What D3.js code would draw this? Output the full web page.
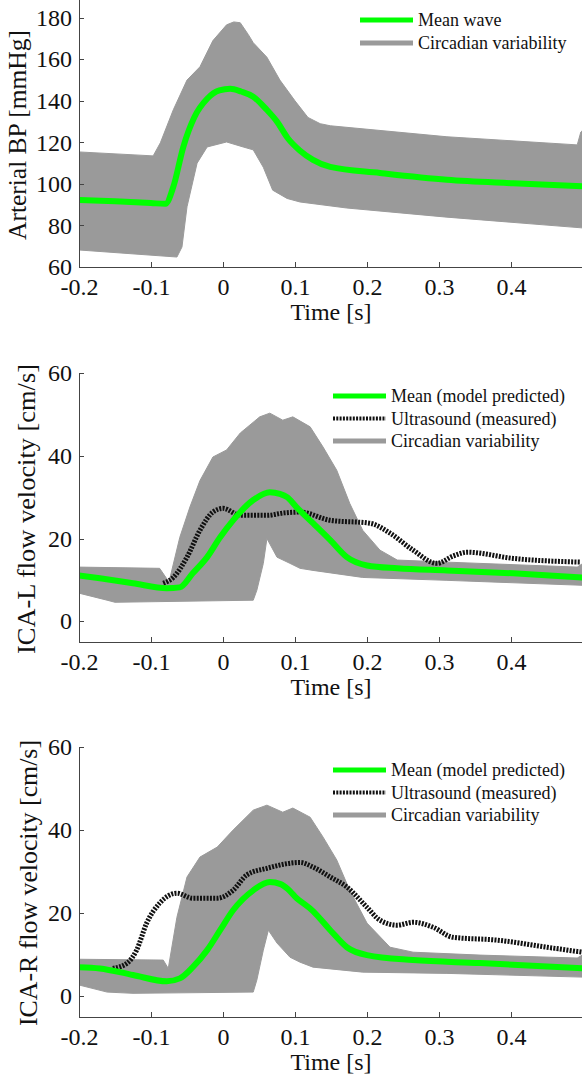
<!DOCTYPE html>
<html>
<head>
  <meta charset="utf-8">
  <title>Arterial BP and ICA flow velocity</title>
  <script src="https://d3js.org/d3.v7.min.js"></script>
  <style>
    body {
      margin: 0;
      background: #fff;
    }
    svg text {
      font-family: "Liberation Serif", "Times New Roman", serif;
      fill: #111;
    }
    .axis path,
    .axis line {
      fill: none;
      stroke: #444;
      stroke-width: 1;
      shape-rendering: crispEdges;
    }
  </style>
</head>
<body>
<svg id="chart" width="582" height="1077"></svg>

<script>
  // ---- data: [time s, value] ----
  const xTicks = [-0.2, -0.1, 0, 0.1, 0.2, 0.3, 0.4];
  const xTickLabels = ["-0.2", "-0.1", "0", "0.1", "0.2", "0.3", "0.4"];
  const bpTicks = [60, 80, 100, 120, 140, 160, 180];
  const flowTicks = [0, 20, 40, 60];

  // Arterial BP
  const bpMean = [[-0.2,92.3],[-0.15,91.6],[-0.1,90.8],[-0.08,90.4],[-0.069,98.6],[-0.055,118],[-0.04,132],
    [-0.022,141],[-0.005,145],[0.01,145.8],[0.025,144.5],[0.042,142],[0.06,136],[0.075,130],[0.09,122],
    [0.107,116],[0.125,111.6],[0.149,108.2],[0.218,105.3],[0.311,102],[0.403,100.3],[0.5,98.8]];
  const bpUpper = [[-0.2,115.4],[-0.097,113.5],[-0.087,119.8],[-0.069,135.7],[-0.05,150],[-0.032,156.4],
    [-0.014,169],[0.005,176.6],[0.015,178],[0.024,177.6],[0.035,172],[0.042,168],[0.061,161],[0.079,150],
    [0.1,140],[0.118,132],[0.135,129],[0.149,128],[0.311,122.7],[0.492,118.8],[0.497,125],[0.5,126]];
  const bpLower = [[-0.2,68.2],[-0.064,64.8],[-0.057,69.6],[-0.05,89],[-0.036,110],[-0.022,117.8],[0.005,120.2],
    [0.028,117.8],[0.042,116.4],[0.056,108],[0.069,97],[0.089,93],[0.107,91.3],[0.172,88.4],[0.311,84],[0.5,78.8]];

  // ICA-L
  const icaLMean = [[-0.2,11.1],[-0.171,10.4],[-0.125,9.2],[-0.078,8.0],[-0.06,8.2],[-0.042,11.6],[-0.022,15.5],
    [-0.004,20.3],[0.014,24.4],[0.042,29.3],[0.065,31.2],[0.079,30.8],[0.089,30],[0.102,27.6],[0.125,23.7],
    [0.149,19.6],[0.172,15.5],[0.2,13.5],[0.242,12.8],[0.311,12.3],[0.403,11.6],[0.5,10.6]];
  const icaLUltra = [[-0.083,9.2],[-0.069,10.6],[-0.05,15.5],[-0.032,22],[-0.014,26.4],[0,27.3],[0.024,25.6],
    [0.061,25.6],[0.085,26.2],[0.107,26.4],[0.149,24.4],[0.204,23.7],[0.232,21.3],[0.264,17.2],[0.297,14.0],
    [0.32,15.8],[0.339,16.7],[0.403,15.2],[0.496,14.3]];
  const icaLUpper = [[-0.2,13.1],[-0.088,12.8],[-0.075,9.5],[-0.06,20.3],[-0.046,27.6],[-0.032,34],[-0.014,39.7],
    [0.005,41.4],[0.024,45.5],[0.051,49.4],[0.065,50.3],[0.083,48.6],[0.097,49.4],[0.121,47],[0.139,42.1],
    [0.158,36.5],[0.176,28.5],[0.194,22],[0.218,17.2],[0.242,14.8],[0.311,14.3],[0.492,13.1],[0.5,14]];
  const icaLLower = [[-0.2,6.8],[-0.161,5.1],[-0.15,4.6],[0.042,5.1],[0.047,7.5],[0.056,14],[0.061,20],[0.075,15.5],
    [0.093,14],[0.107,12.8],[0.125,12.3],[0.194,10.6],[0.311,9.9],[0.5,8.7]];

  // ICA-R
  const icaRMean = [[-0.2,7.0],[-0.171,6.7],[-0.125,5.1],[-0.078,3.6],[-0.06,4.3],[-0.042,7.0],[-0.022,11.1],
    [-0.004,15.9],[0.014,20.7],[0.042,25.5],[0.065,27.5],[0.08,27],[0.09,25.8],[0.1,24],[0.125,20.5],
    [0.149,15.9],[0.172,11.8],[0.2,9.9],[0.264,8.7],[0.357,8.0],[0.5,6.7]];
  const icaRUltra = [[-0.153,6.7],[-0.133,8.0],[-0.12,11.1],[-0.106,17.6],[-0.088,22.4],[-0.064,24.8],[-0.042,23.6],
    [-0.008,23.6],[0.014,25.5],[0.033,29.2],[0.061,30.8],[0.107,32.2],[0.125,31.1],[0.149,28.7],[0.172,26.3],
    [0.2,21.4],[0.218,18.3],[0.242,17.1],[0.264,17.8],[0.292,16.6],[0.319,14.2],[0.381,13.5],[0.45,11.8],[0.499,10.6]];
  const icaRUpper = [[-0.2,8.9],[-0.083,8.7],[-0.076,6.7],[-0.064,19],[-0.05,28.7],[-0.032,33.5],[-0.008,35.9],
    [0.014,40],[0.042,44.8],[0.061,46],[0.083,44.3],[0.097,45.3],[0.121,43.1],[0.139,38.3],[0.158,32.8],
    [0.176,25.5],[0.2,17.6],[0.232,11.8],[0.264,10.6],[0.357,9.9],[0.492,9.2],[0.5,10]];
  const icaRLower = [[-0.2,2.7],[-0.161,1.0],[-0.125,0.7],[0.042,1.0],[0.047,3.9],[0.056,11.1],[0.063,15.9],
    [0.075,12.8],[0.093,9.4],[0.107,8.2],[0.125,7.0],[0.194,5.8],[0.311,5.5],[0.5,4.6]];

  const bpLegend = ["Mean wave", "Circadian variability"];
  const flowLegend = ["Mean (model predicted)", "Ultrasound (measured)", "Circadian variability"];

  // ---- styles ----
  const GREEN = "#00ff00", GREY = "#9a9a9a", BLACK = "#111";

  const svg = d3.select("#chart");
  svg.append("rect").attr("width", 582).attr("height", 1077).attr("fill", "#fff");

  // x scale shared by all three panels
  const x = d3.scaleLinear().domain([-0.2, 0.5]).range([79, 583]);

  // one entry per panel: geometry lives here, not in the data arrays
  const panels = [
    { label: "Arterial BP [mmHg]", yDomain: [60, 190], yRange: [267, -3], yTicks: bpTicks,
      labelX: 26, labelY: 135, labelLen: 210,
      mean: bpMean, ultra: null, upper: bpUpper, lower: bpLower,
      legend: bpLegend, legendX: 360, legendY: 20 },
    { label: "ICA-L flow velocity [cm/s]", yDomain: [-5, 60], yRange: [642, 373], yTicks: flowTicks,
      labelX: 35, labelY: 509, labelLen: 290,
      mean: icaLMean, ultra: icaLUltra, upper: icaLUpper, lower: icaLLower,
      legend: flowLegend, legendX: 333, legendY: 396 },
    { label: "ICA-R flow velocity [cm/s]", yDomain: [-5, 60], yRange: [1017, 747], yTicks: flowTicks,
      labelX: 37, labelY: 883, labelLen: 286,
      mean: icaRMean, ultra: icaRUltra, upper: icaRUpper, lower: icaRLower,
      legend: flowLegend, legendX: 333, legendY: 770 }
  ];

  panels.forEach(p => {
    const y = d3.scaleLinear().domain(p.yDomain).range(p.yRange);
    const g = svg.append("g");
    const clipId = "clip" + p.yRange[0];

    g.append("clipPath").attr("id", clipId)
      .append("rect")
      .attr("x", 79).attr("y", p.yRange[1])
      .attr("width", 504).attr("height", p.yRange[0] - p.yRange[1]);

    const plot = g.append("g").attr("clip-path", `url(#${clipId})`);

    // variability band: upper edge forward then lower edge back
    const band = p.upper.concat(p.lower.slice().reverse());
    plot.append("path")
      .datum(band)
      .attr("fill", GREY)
      .attr("stroke", GREY)
      .attr("stroke-width", 1)
      .attr("d", d3.line().x(d => x(d[0])).y(d => y(d[1])).curve(d3.curveLinearClosed));

    const lineGen = d3.line()
      .x(d => x(d[0]))
      .y(d => y(d[1]))
      .curve(d3.curveMonotoneX);

    if (p.ultra) {
      plot.append("path")
        .datum(p.ultra)
        .attr("fill", "none")
        .attr("stroke", BLACK)
        .attr("stroke-width", 5)
        .attr("stroke-dasharray", "2,1.3")
        .attr("d", lineGen);
    }

    plot.append("path")
      .datum(p.mean)
      .attr("fill", "none")
      .attr("stroke", GREEN)
      .attr("stroke-width", 6)
      .attr("d", lineGen);

    // axes, ticks pointing inward
    const xAxis = d3.axisBottom(x)
      .tickValues(xTicks)
      .tickFormat((d, i) => xTickLabels[i])
      .tickSizeInner(-5)
      .tickSizeOuter(0)
      .tickPadding(11);
    g.append("g")
      .attr("class", "axis")
      .attr("transform", `translate(0,${p.yRange[0]})`)
      .call(xAxis)
      .call(s => s.selectAll("text").attr("font-size", 24).attr("fill", "#111"));

    const yAxis = d3.axisLeft(y)
      .tickValues(p.yTicks)
      .tickSizeInner(-5)
      .tickSizeOuter(0)
      .tickPadding(7);
    g.append("g")
      .attr("class", "axis")
      .attr("transform", "translate(79,0)")
      .call(yAxis)
      .call(s => s.selectAll("text").attr("font-size", 24).attr("fill", "#111"));

    // axis labels
    g.append("text")
      .attr("x", 331)
      .attr("y", p.yRange[0] + 53)
      .attr("text-anchor", "middle")
      .attr("font-size", 24)
      .text("Time [s]");

    g.append("text")
      .attr("transform", `translate(${p.labelX},${p.labelY}) rotate(-90)`)
      .attr("text-anchor", "middle")
      .attr("font-size", 25)
      .attr("textLength", p.labelLen)
      .attr("lengthAdjust", "spacingAndGlyphs")
      .text(p.label);

    // legend
    const styles = p.ultra
      ? [{ c: GREEN, w: 5, dash: null }, { c: BLACK, w: 4, dash: "2,1.3" }, { c: GREY, w: 5, dash: null }]
      : [{ c: GREEN, w: 5, dash: null }, { c: GREY, w: 5, dash: null }];
    const step = p.ultra ? 22.5 : 23;
    const leg = g.selectAll(".leg")
      .data(p.legend)
      .enter()
      .append("g")
      .attr("transform", (d, i) => `translate(${p.legendX},${p.legendY + i * step})`);
    leg.append("line")
      .attr("x1", 0).attr("x2", 53)
      .attr("stroke", (d, i) => styles[i].c)
      .attr("stroke-width", (d, i) => styles[i].w)
      .attr("stroke-dasharray", (d, i) => styles[i].dash);
    leg.append("text")
      .attr("x", 58)
      .attr("y", 6)
      .attr("font-size", 18)
      .text(d => d);
  });
</script>
</body>
</html>
